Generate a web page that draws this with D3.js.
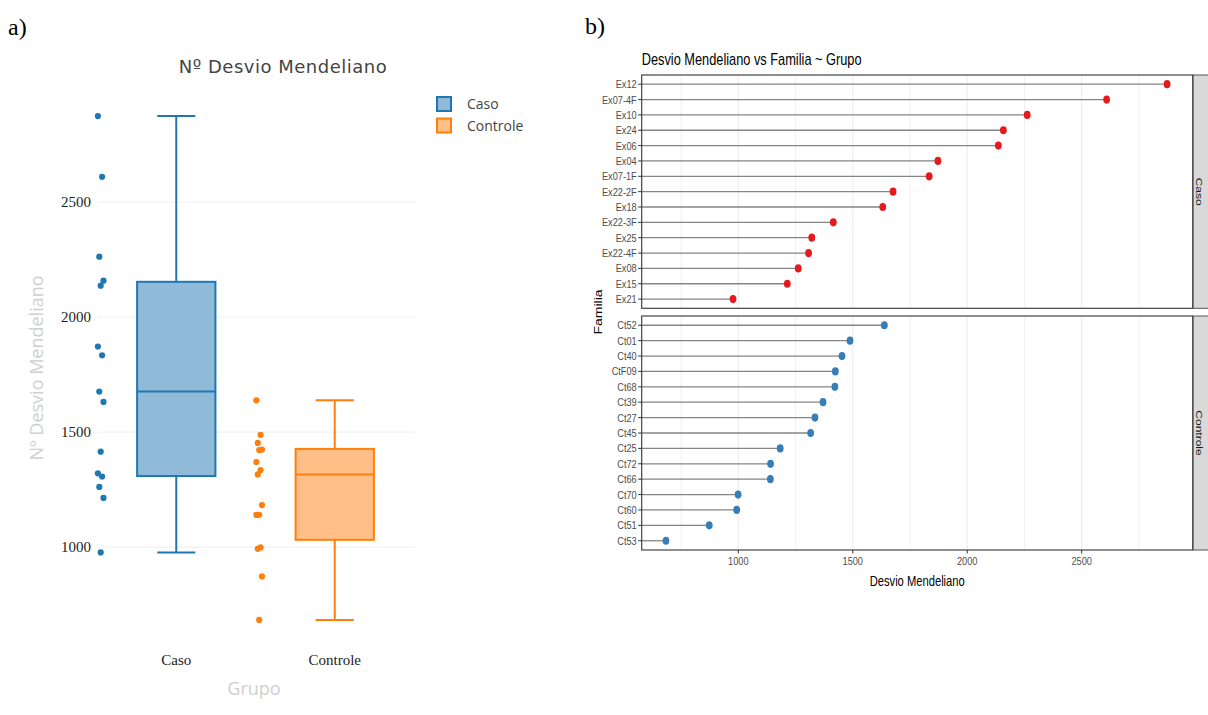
<!DOCTYPE html>
<html>
<head>
<meta charset="utf-8">
<script src="https://cdn.jsdelivr.net/npm/d3@7"></script>
<style>
  body { margin: 0; background: #fff; }
  svg { display: block; }
</style>
</head>
<body>
<div id="plot"></div>
<script>
// data
const grupos = ['Caso', 'Controle']
const casoFamilias = ['Ex12','Ex07-4F','Ex10','Ex24','Ex06','Ex04','Ex07-1F','Ex22-2F','Ex18','Ex22-3F','Ex25','Ex22-4F','Ex08','Ex15','Ex21']
const casoValues = [2873,2609,2262,2158,2136,1872,1834,1676,1631,1415,1321,1307,1262,1214,977]
const controleFamilias = ['Ct52','Ct01','Ct40','CtF09','Ct68','Ct39','Ct27','Ct45','Ct25','Ct72','Ct66','Ct70','Ct60','Ct51','Ct53']
const controleValues = [1638,1488,1453,1424,1422,1370,1335,1316,1183,1141,1140,999,993,873,684]

// box stats as drawn (Caso, Controle)
const boxLow = [977, 684]
const boxQ1 = [1309, 1032]
const boxMedian = [1676, 1316]
const boxQ3 = [2153, 1427]
const boxHigh = [2873, 1638]

const leftTicks = [1000, 1500, 2000, 2500]
const rightTicks = [1000, 1500, 2000, 2500]
const rightMinor = [750, 1250, 1750, 2250, 2750]

const lineColors = ['#1f77b4', '#ff7f0e']
const fillColors = ['rgba(31,119,180,0.5)', 'rgba(255,127,14,0.5)']
const dotColors = ['#e41a1c', '#377eb8']

const W = 1208, H = 715

var svg = d3.select('#plot')
  .append('svg')
    .attr('width', W)
    .attr('height', H)

// panel letters
svg.append('text').attr('x', 8).attr('y', 35)
  .style('font-family', 'Liberation Serif, Times New Roman, serif').style('font-size', '24px')
  .text('a)')
svg.append('text').attr('x', 585).attr('y', 34)
  .style('font-family', 'Liberation Serif, Times New Roman, serif').style('font-size', '24px')
  .text('b)')

// ---------------- a) plotly-style boxplot ----------------
const drawBoxPlot = function() {
  const x = d3.scaleBand().domain(grupos).range([98, 415])
  const y = d3.scaleLinear().domain([575, 2982]).range([645, 91])
  const bw = x.bandwidth()
  const g = svg.append('g')

  // gridlines
  g.selectAll('.grid')
    .data(leftTicks)
    .enter()
    .append('line')
      .attr('x1', 98).attr('x2', 415)
      .attr('y1', d => y(d)).attr('y2', d => y(d))
      .attr('stroke', '#eee').attr('stroke-width', 1)

  // y tick labels
  g.selectAll('.ytick')
    .data(leftTicks)
    .enter()
    .append('text')
      .attr('x', 91)
      .attr('y', d => y(d) + 5)
      .attr('text-anchor', 'end')
      .style('font-family', 'Liberation Serif, Times New Roman, serif')
      .style('font-size', '15px')
      .style('fill', '#222')
      .text(d => d)

  // x tick labels
  g.selectAll('.xtick')
    .data(grupos)
    .enter()
    .append('text')
      .attr('x', d => x(d) + bw / 2 - 1)
      .attr('y', 665)
      .attr('text-anchor', 'middle')
      .style('font-family', 'Liberation Serif, Times New Roman, serif')
      .style('font-size', '15px')
      .style('fill', '#222')
      .text(d => d)

  const boxes = grupos.map((k, i) => ({
    key: k, i: i, low: boxLow[i], q1: boxQ1[i], med: boxMedian[i], q3: boxQ3[i], high: boxHigh[i]
  }))

  const bg = g.selectAll('.box')
    .data(boxes)
    .enter()
    .append('g')

  const cx = d => x(d.key) + bw / 2 - 1
  const boxW = bw * 0.494
  const capW = bw * 0.24

  bg.append('line') // whisker
    .attr('x1', cx).attr('x2', cx)
    .attr('y1', d => y(d.low)).attr('y2', d => y(d.high))
    .attr('stroke', d => lineColors[d.i]).attr('stroke-width', 2)
  bg.append('line')
    .attr('x1', d => cx(d) - capW / 2).attr('x2', d => cx(d) + capW / 2)
    .attr('y1', d => y(d.low)).attr('y2', d => y(d.low))
    .attr('stroke', d => lineColors[d.i]).attr('stroke-width', 2)
  bg.append('line')
    .attr('x1', d => cx(d) - capW / 2).attr('x2', d => cx(d) + capW / 2)
    .attr('y1', d => y(d.high)).attr('y2', d => y(d.high))
    .attr('stroke', d => lineColors[d.i]).attr('stroke-width', 2)
  bg.append('rect')
    .attr('x', d => cx(d) - boxW / 2)
    .attr('width', boxW)
    .attr('y', d => y(d.q3))
    .attr('height', d => y(d.q1) - y(d.q3))
    .attr('fill', '#fff')
  bg.append('rect')
    .attr('x', d => cx(d) - boxW / 2)
    .attr('width', boxW)
    .attr('y', d => y(d.q3))
    .attr('height', d => y(d.q1) - y(d.q3))
    .attr('fill', d => fillColors[d.i])
    .attr('stroke', d => lineColors[d.i]).attr('stroke-width', 2)
  bg.append('line')
    .attr('x1', d => cx(d) - boxW / 2).attr('x2', d => cx(d) + boxW / 2)
    .attr('y1', d => y(d.med)).attr('y2', d => y(d.med))
    .attr('stroke', d => lineColors[d.i]).attr('stroke-width', 2)

  // jittered points to the left of each box
  const pts = []
  casoValues.forEach((v, j) => pts.push({ i: 0, v: v, j: j }))
  controleValues.forEach((v, j) => pts.push({ i: 1, v: v, j: j }))
  g.selectAll('.pt')
    .data(pts)
    .enter()
    .append('circle')
      .attr('cx', d => x(grupos[d.i]) + bw / 2 - bw * 0.483 + ((d.j * 3) % 5 - 2) * 1.4)
      .attr('cy', d => y(d.v))
      .attr('r', 3.1)
      .attr('fill', d => lineColors[d.i])

  // titles
  g.append('text')
    .attr('x', 283).attr('y', 73)
    .attr('text-anchor', 'middle')
    .style('font-family', 'DejaVu Sans, Verdana, sans-serif').style('font-size', '18px')
    .style('letter-spacing', '0.5px')
    .style('fill', '#444')
    .text('Nº Desvio Mendeliano')
  g.append('text')
    .attr('transform', 'translate(43,368) rotate(-90)')
    .attr('text-anchor', 'middle')
    .style('font-family', 'Open Sans, sans-serif').style('font-size', '18px')
    .style('fill', '#d0d0d0')
    .text('Nº Desvio Mendeliano')
  g.append('text')
    .attr('x', 254).attr('y', 695)
    .attr('text-anchor', 'middle')
    .style('font-family', 'Open Sans, sans-serif').style('font-size', '18px')
    .style('fill', '#d0d0d0')
    .text('Grupo')

  // legend
  const lg = g.selectAll('.leg')
    .data(grupos)
    .enter()
    .append('g')
      .attr('transform', (d, i) => `translate(437, ${97 + i * 21.5})`)
  lg.append('rect')
    .attr('width', 14).attr('height', 14)
    .attr('fill', (d, i) => fillColors[i])
    .attr('stroke', (d, i) => lineColors[i]).attr('stroke-width', 2)
  lg.append('text')
    .attr('x', 30).attr('y', 12)
    .style('font-family', 'Open Sans, sans-serif').style('font-size', '14px')
    .style('fill', '#444')
    .text(d => d)
}

// ---------------- b) ggplot-style lollipop facets ----------------
const sx = 0.8 // the figure is squeezed horizontally
const drawLollipop = function() {
  const x = d3.scaleLinear().domain([578, 2985]).range([641.7, 1192.7])
  const panels = [
    { key: 'Caso', fam: casoFamilias, val: casoValues, top: 75, bottom: 308.3, color: dotColors[0] },
    { key: 'Controle', fam: controleFamilias, val: controleValues, top: 316, bottom: 550, color: dotColors[1] }
  ]
  const x0 = x.range()[0], x1 = x.range()[1]
  const font = 'Liberation Sans, Arial, sans-serif'

  svg.append('text')
    .attr('transform', `translate(${x0},65) scale(${sx},1)`)
    .style('font-family', font).style('font-size', '16px')
    .style('fill', '#000')
    .text('Desvio Mendeliano vs Familia ~ Grupo')

  panels.forEach(p => {
    const y = d3.scalePoint().domain(p.fam).range([p.top, p.bottom]).padding(0.6)
    const g = svg.append('g')

    // grid
    g.selectAll('.minor')
      .data(rightMinor)
      .enter()
      .append('line')
        .attr('x1', d => x(d)).attr('x2', d => x(d))
        .attr('y1', p.top).attr('y2', p.bottom)
        .attr('stroke', '#f0f0f0').attr('stroke-width', 1)
    g.selectAll('.major')
      .data(rightTicks)
      .enter()
      .append('line')
        .attr('x1', d => x(d)).attr('x2', d => x(d))
        .attr('y1', p.top).attr('y2', p.bottom)
        .attr('stroke', '#ebebeb').attr('stroke-width', 1)

    const rows = p.fam.map((f, i) => ({ f: f, v: p.val[i] }))
    g.selectAll('.seg')
      .data(rows)
      .enter()
      .append('line')
        .attr('x1', x0).attr('x2', d => x(d.v))
        .attr('y1', d => y(d.f)).attr('y2', d => y(d.f))
        .attr('stroke', '#858585').attr('stroke-width', 1.3)
    g.selectAll('.dot')
      .data(rows)
      .enter()
      .append('ellipse')
        .attr('cx', d => x(d.v)).attr('cy', d => y(d.f))
        .attr('rx', 3.4).attr('ry', 4.1)
        .attr('fill', p.color)

    // y ticks
    g.selectAll('.yt')
      .data(p.fam)
      .enter()
      .append('line')
        .attr('x1', x0 - 3.5).attr('x2', x0)
        .attr('y1', d => y(d)).attr('y2', d => y(d))
        .attr('stroke', '#333')
    g.selectAll('.yl')
      .data(p.fam)
      .enter()
      .append('text')
        .attr('transform', d => `translate(${x0 - 5},${y(d) + 4}) scale(${sx},1)`)
        .attr('text-anchor', 'end')
        .style('font-family', font).style('font-size', '11.5px')
        .style('fill', '#4d4d4d')
        .text(d => d)

    // panel border and strip
    g.append('rect')
      .attr('x', x0).attr('y', p.top)
      .attr('width', x1 - x0).attr('height', p.bottom - p.top)
      .attr('fill', 'none').attr('stroke', '#333').attr('stroke-width', 1.1)
    g.append('rect')
      .attr('x', x1 + 0.5).attr('y', p.top)
      .attr('width', 22).attr('height', p.bottom - p.top)
      .attr('fill', '#d9d9d9').attr('stroke', '#555').attr('stroke-width', 1)
    g.append('text')
      .attr('transform', `translate(${x1 + 3},${(p.top + p.bottom) / 2}) scale(${sx},1) rotate(90)`)
      .attr('text-anchor', 'middle')
      .style('font-family', font).style('font-size', '12px')
      .style('fill', '#1a1a1a')
      .text(p.key)
  })

  // x axis of bottom panel
  const bot = panels[1].bottom
  svg.selectAll('.xt')
    .data(rightTicks)
    .enter()
    .append('line')
      .attr('x1', d => x(d)).attr('x2', d => x(d))
      .attr('y1', bot).attr('y2', bot + 3.5)
      .attr('stroke', '#333')
  svg.selectAll('.xl')
    .data(rightTicks)
    .enter()
    .append('text')
      .attr('transform', d => `translate(${x(d)},${bot + 15}) scale(${sx},1)`)
      .attr('text-anchor', 'middle')
      .style('font-family', font).style('font-size', '11.5px')
      .style('fill', '#4d4d4d')
      .text(d => d)

  svg.append('text')
    .attr('transform', `translate(${(x0 + x1) / 2},586) scale(${sx},1)`)
    .attr('text-anchor', 'middle')
    .style('font-family', font).style('font-size', '14px')
    .style('fill', '#000')
    .text('Desvio Mendeliano')
  svg.append('text')
    .attr('transform', `translate(602,312) scale(${sx},1) rotate(-90)`)
    .attr('text-anchor', 'middle')
    .style('font-family', font).style('font-size', '14px')
    .style('fill', '#000')
    .text('Familia')
}

drawBoxPlot()
drawLollipop()
</script>
</body>
</html>
